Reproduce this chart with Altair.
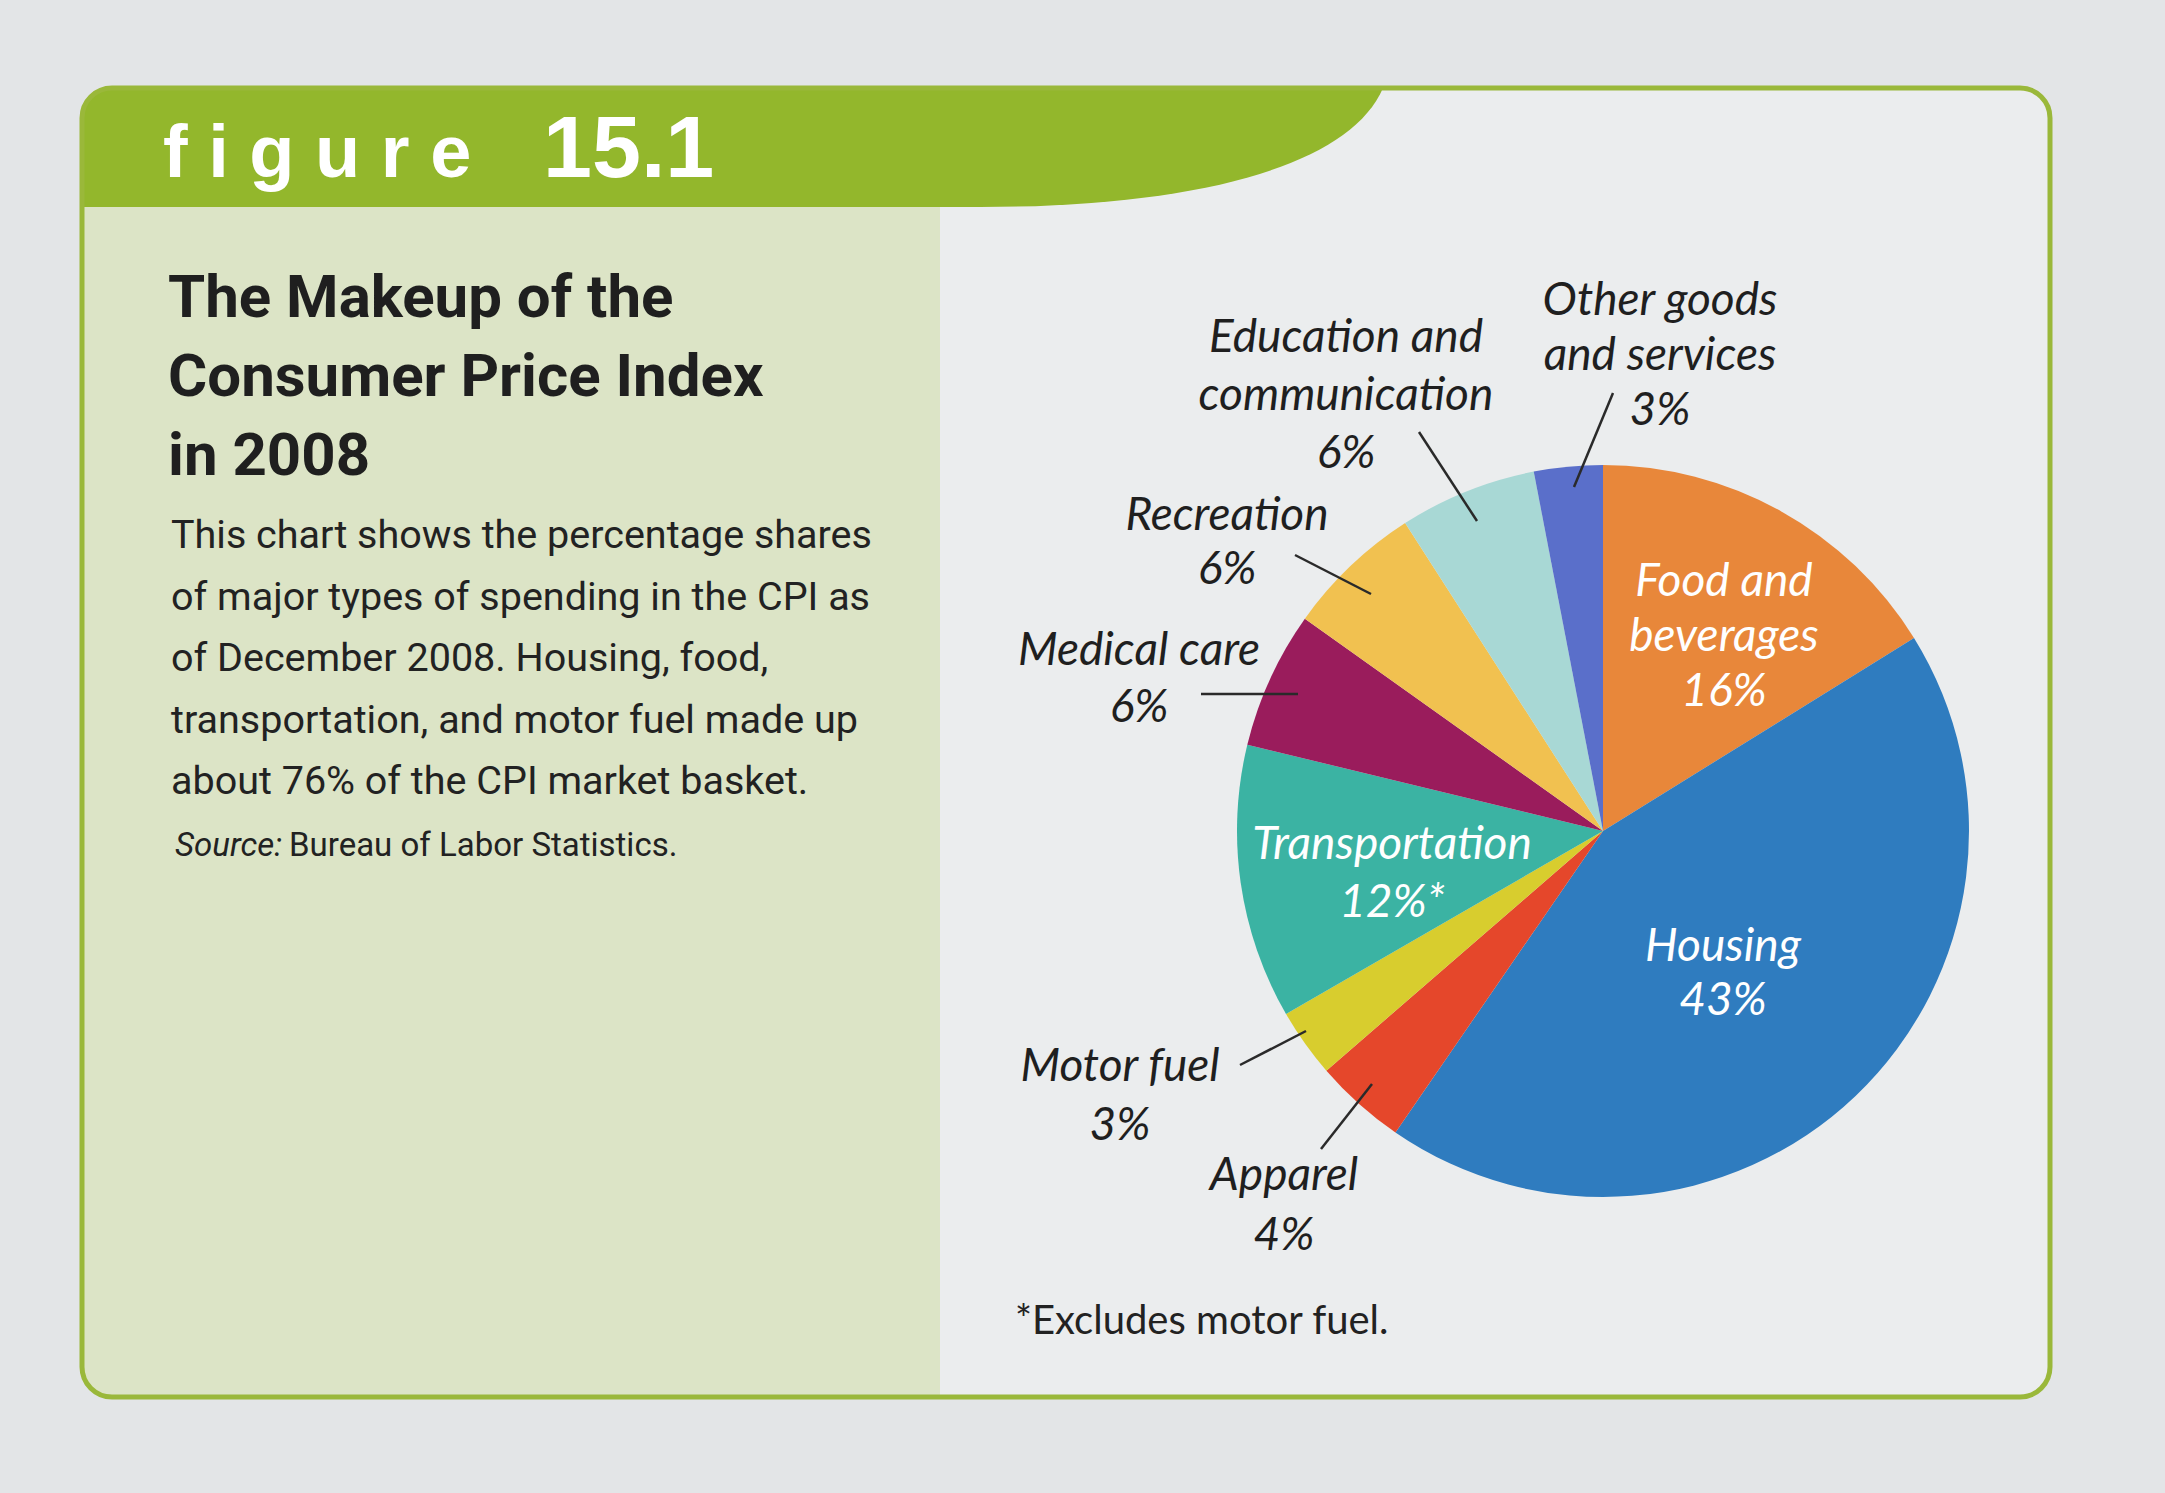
import altair as alt
import pandas as pd

# ---------------- data ----------------
categories = ["Food and beverages", "Housing", "Apparel", "Motor fuel", "Transportation",
              "Medical care", "Recreation", "Education and communication",
              "Other goods and services"]
shares = [16, 43, 4, 3, 12, 6, 6, 6, 3]
slice_colors = ["#e8873a", "#2f7cbf", "#e5472b", "#d8cd2e", "#3bb3a3",
                "#9a1c5c", "#f1c150", "#a8d8d5", "#5a6fca"]
label_lines = [["Food and", "beverages"], ["Housing"], ["Apparel"], ["Motor fuel"],
               ["Transportation"], ["Medical care"], ["Recreation"],
               ["Education and", "communication"], ["Other goods", "and services"]]
pct_suffix = ["", "", "", "", "*", "", "", "", ""]

title_lines = ["The Makeup of the", "Consumer Price Index", "in 2008"]
body_lines = ["This chart shows the percentage shares",
              "of major types of spending in the CPI as",
              "of December 2008. Housing, food,",
              "transportation, and motor fuel made up",
              "about 76% of the CPI market basket."]
source_label = "Source:"
source_text = "Bureau of Labor Statistics."
footnote = "*Excludes motor fuel."
fig_word = "f i g u r e"
fig_num = "15.1"

# ---------------- layout (pixels) ----------------
W, H = 2165, 1493
CX, CY, R = 1603, 831, 366
FRAME = (82, 88, 2050, 1397)
LEFT_X2 = 940
HEADER_BOTTOM = 207

GREEN = "#93b72c"
FRAME_GREEN = "#9ab83a"
LEFT_FILL = "#dce4c6"
RIGHT_FILL = "#ebedee"
BG = "#e3e5e7"
INK = "#1f1f1f"

SANS = "Roboto, Liberation Sans, sans-serif"
LABEL_FONT = "Lato, Open Sans, sans-serif"

# label placement: x centre, first baseline, line height, colour
label_layout = {
    "Food and beverages": (1724, 596, 55, "white"),
    "Housing": (1723, 961, 54, "white"),
    "Apparel": (1284, 1190, 60, INK),
    "Motor fuel": (1120, 1081, 59, INK),
    "Transportation": (1392, 859, 58, "white"),
    "Medical care": (1139, 665, 57, INK),
    "Recreation": (1227, 530, 54, INK),
    "Education and communication": (1346, 352, 58, INK),
    "Other goods and services": (1660, 315, 55, INK),
}
leaders = [
    (1613, 393, 1574, 487),
    (1419, 432, 1477, 521),
    (1295, 555, 1371, 594),
    (1201, 694, 1298, 694),
    (1240, 1065, 1306, 1031),
    (1321, 1149, 1372, 1084),
]

dummy = pd.DataFrame({"d": [0]})
base = alt.Chart(dummy)
layers = []

# frame fill
x1, y1, x2, y2 = FRAME
layers.append(base.mark_rect(fill=RIGHT_FILL, cornerRadius=30).encode(
    x=alt.value(x1), x2=alt.value(x2), y=alt.value(y1), y2=alt.value(y2)))
# left panel
layers.append(base.mark_rect(fill=LEFT_FILL, cornerRadiusBottomLeft=28).encode(
    x=alt.value(x1), x2=alt.value(LEFT_X2), y=alt.value(HEADER_BOTTOM - 5), y2=alt.value(y2)))

# header shape as custom symbol path (coords normalised by S)
S = float(W)
def n(v):
    return f"{v / S:.5f}"
pts = [
    ("M", [(x1 + 30, y1)]),
    ("L", [(1383, y1)]),
    ("C", [(1350, 165), (1200, HEADER_BOTTOM), (980, HEADER_BOTTOM)]),
    ("L", [(x1, HEADER_BOTTOM)]),
    ("L", [(x1, y1 + 30)]),
    ("Q", [(x1, y1), (x1 + 30, y1)]),
]
path = " ".join(cmd + " ".join(f"{n(px)},{n(py)}" for px, py in p) for cmd, p in pts) + " Z"
layers.append(base.mark_point(shape=path, filled=True, fill=GREEN, opacity=1, strokeWidth=0,
                              size=(2 * S) ** 2).encode(x=alt.value(0), y=alt.value(0)))

# frame stroke
layers.append(base.mark_rect(fillOpacity=0, stroke=FRAME_GREEN, strokeWidth=5, cornerRadius=30).encode(
    x=alt.value(x1), x2=alt.value(x2), y=alt.value(y1), y2=alt.value(y2)))

# pie
pie_df = pd.DataFrame({"category": categories, "share": shares, "order": list(range(len(categories)))})
layers.append(alt.Chart(pie_df).mark_arc(outerRadius=R).encode(
    theta=alt.Theta("share:Q", stack=True),
    order=alt.Order("order:Q", sort="ascending"),
    color=alt.Color("category:N", scale=alt.Scale(domain=categories, range=slice_colors), legend=None),
    x=alt.value(CX), y=alt.value(CY),
))

# leader lines
for (a, b, c, d) in leaders:
    layers.append(base.mark_rule(color="#2a2a2a", strokeWidth=2.5).encode(
        x=alt.value(a), y=alt.value(b), x2=alt.value(c), y2=alt.value(d)))


def text(t, x, y, size, font, color=INK, weight="normal", style="normal", align="left"):
    return base.mark_text(text=t, font=font, fontSize=size, fontWeight=weight, fontStyle=style,
                          color=color, align=align, baseline="alphabetic").encode(
        x=alt.value(x), y=alt.value(y))

# header text
layers.append(text(fig_word, 163, 177, 74, "Liberation Sans, Arial, sans-serif", "white", "bold"))
layers.append(text(fig_num, 543, 177, 88, "Liberation Sans, Arial, sans-serif", "white", "bold"))

# title
for i, t in enumerate(title_lines):
    layers.append(text(t, 168, 317 + 79 * i, 60, SANS, INK, "bold"))
# body
for i, t in enumerate(body_lines):
    layers.append(text(t, 171, 548 + 61.5 * i, 39.5, SANS, "#222222"))
layers.append(text(source_label, 175, 856, 33, SANS, "#222222", style="italic"))
layers.append(text(source_text, 289, 856, 33, SANS, "#222222"))

# pie labels
for cat, val, lines, suf in zip(categories, shares, label_lines, pct_suffix):
    lx, ly, lh, col = label_layout[cat]
    all_lines = lines + [f"{val}%{suf}"]
    for j, t in enumerate(all_lines):
        layers.append(text(t, lx, ly + lh * j, 46, LABEL_FONT, col, style="italic", align="center"))

# footnote
layers.append(text(footnote, 1015, 1334, 40, LABEL_FONT, "#222222"))

chart = alt.layer(*layers).properties(
    width=W, height=H, padding=0, autosize=alt.AutoSizeParams(type="none"),
    background=BG,
).configure_view(strokeWidth=0)

chart.save("out.html", embed_options={"renderer": "svg", "actions": False})
